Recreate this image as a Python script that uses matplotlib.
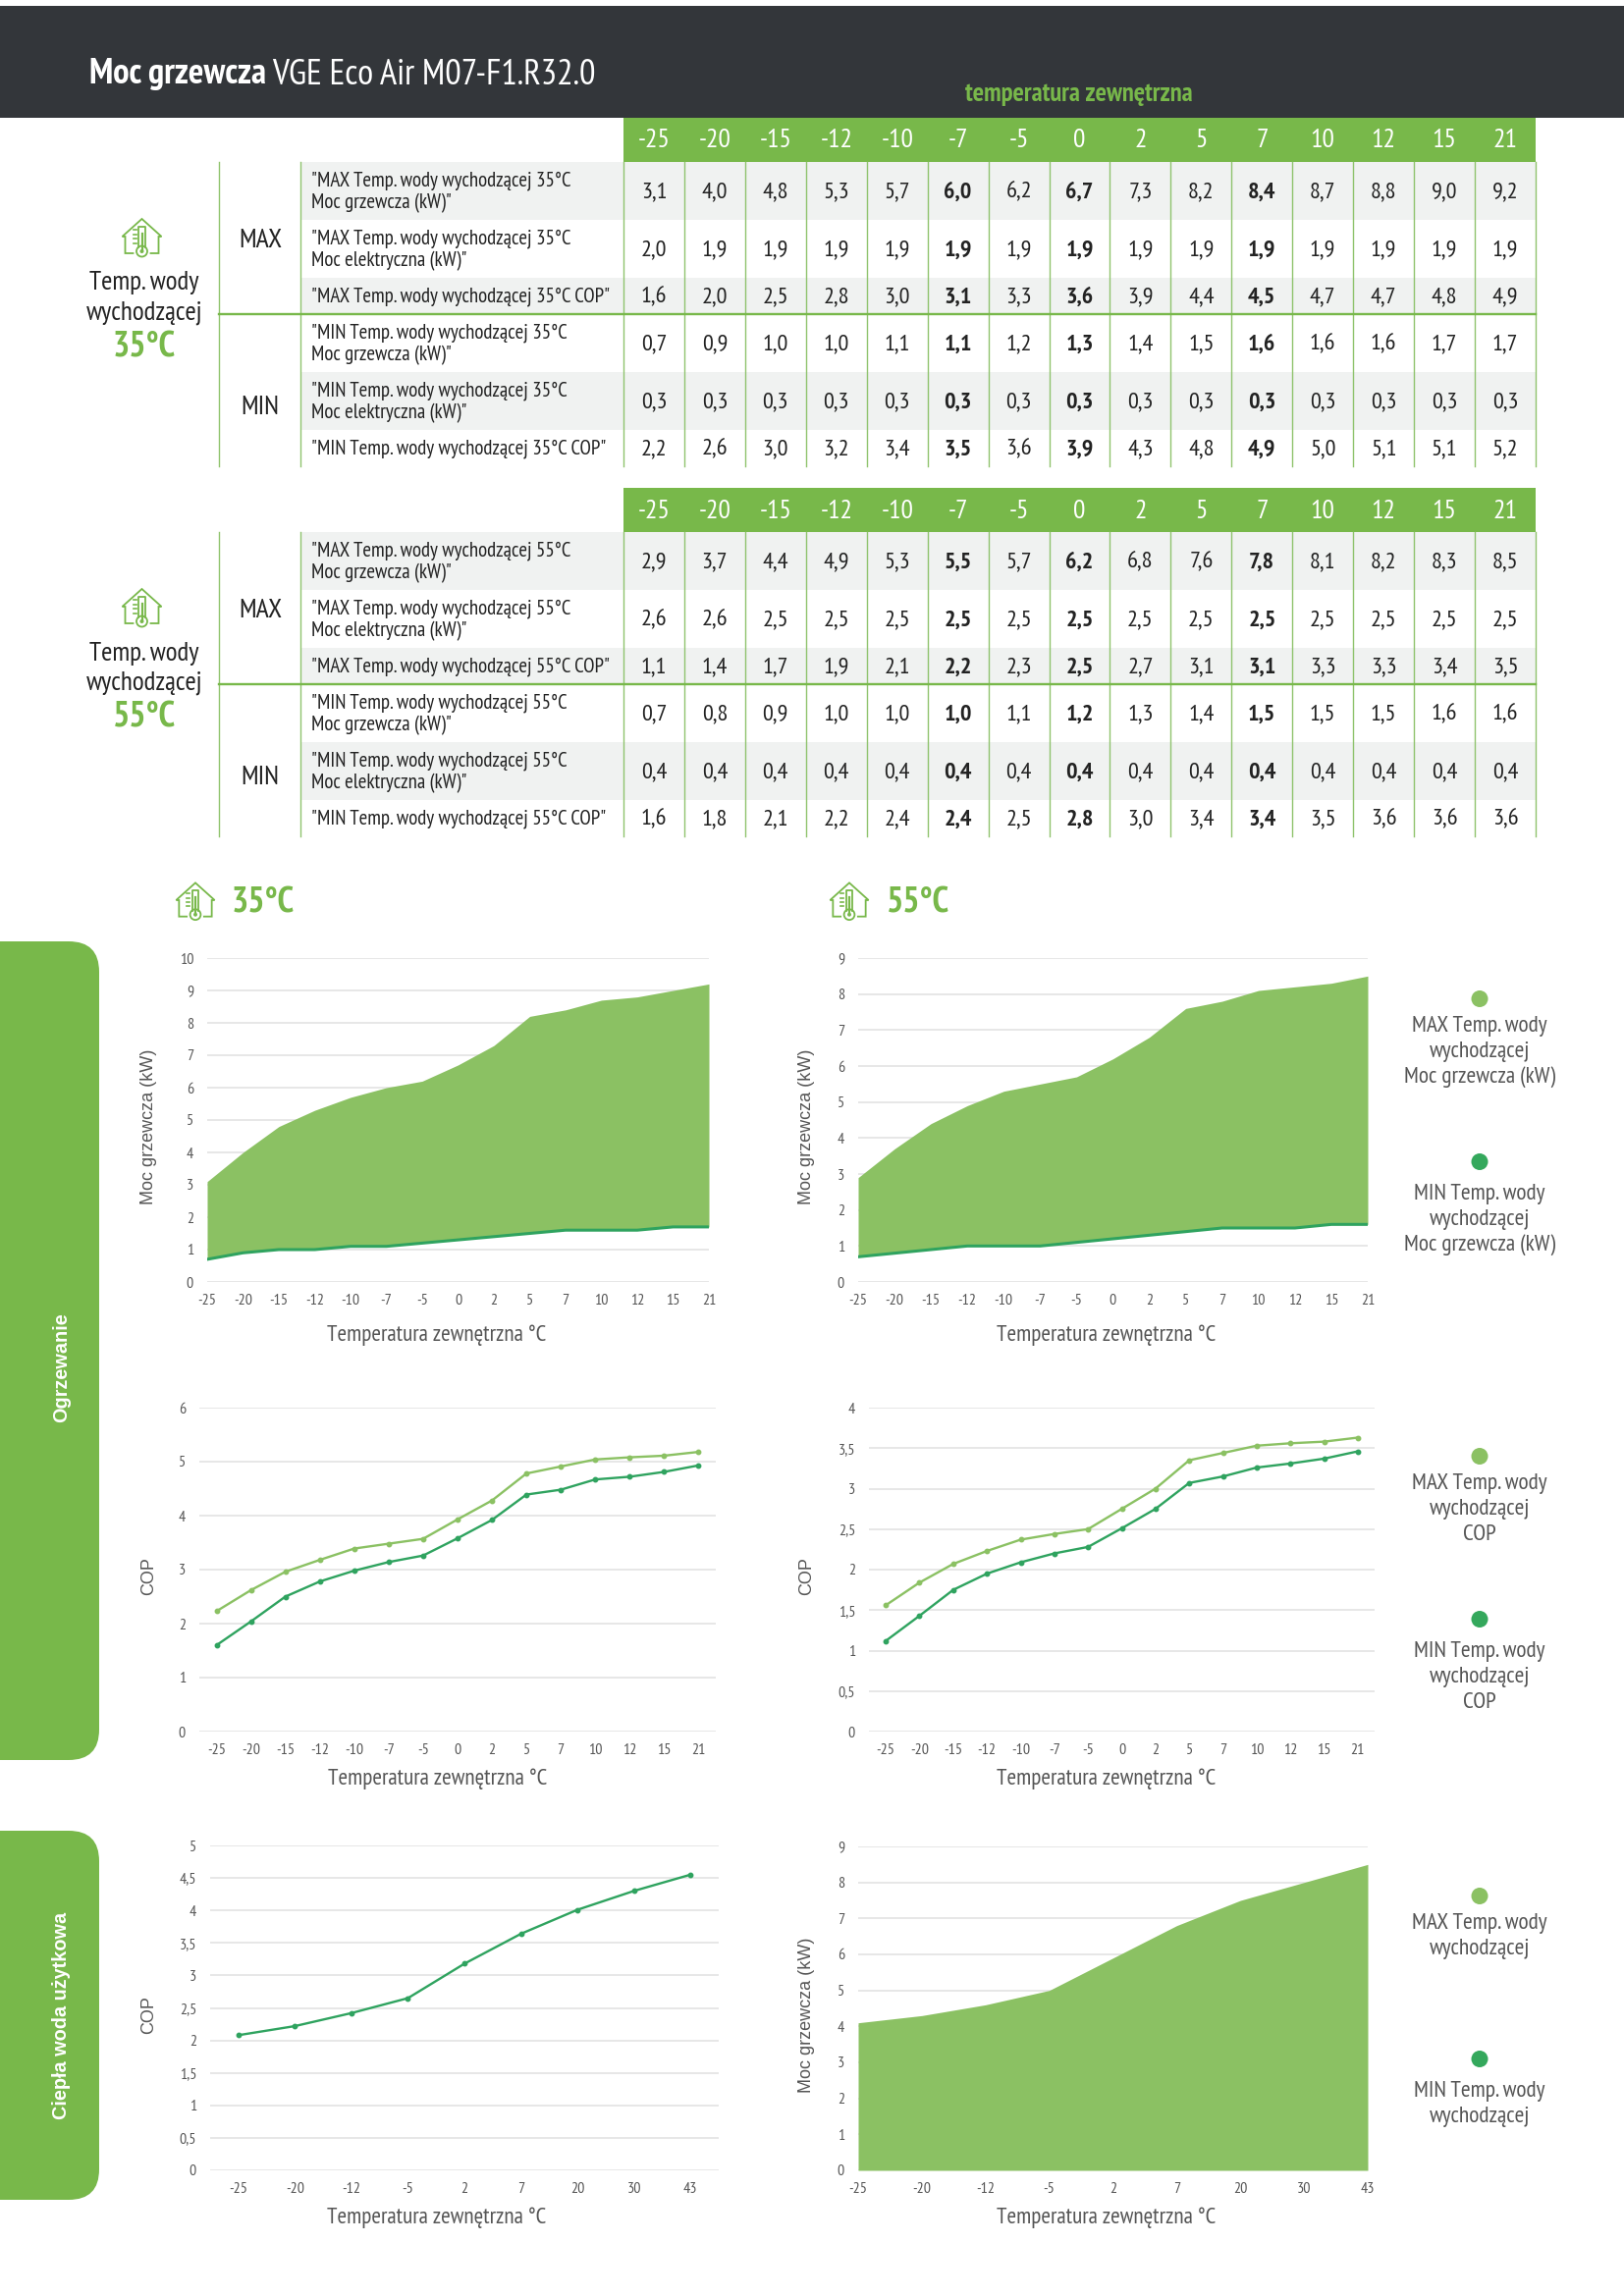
import numpy as np
import matplotlib
matplotlib.use('Agg')
import matplotlib.pyplot as plt
from matplotlib.patches import Rectangle, FancyBboxPatch, Circle

W, H = 1654, 2339
NARROW = ['PT Sans Narrow', 'Roboto Condensed', 'Liberation Sans']
WIDE = ['Liberation Sans', 'DejaVu Sans']

GREEN = '#78B84A'
LINE_GREEN = '#8FC36D'
AREA = '#8BC163'
DARK_GREEN = '#2FA35F'
ROW_GRAY = '#F0F2F1'
HEADER_DARK = '#33363A'
GRID = '#E3E3E3'
TEXT = '#222222'
AXIS_TEXT = '#555555'

temps = ['-25', '-20', '-15', '-12', '-10', '-7', '-5', '0', '2', '5', '7', '10', '12', '15', '21']
dhw_temps = ['-25', '-20', '-12', '-5', '2', '7', '20', '30', '43']
bold_cols = ['-7', '0', '7']

# tabela 35C
max35_heat = [3.1, 4.0, 4.8, 5.3, 5.7, 6.0, 6.2, 6.7, 7.3, 8.2, 8.4, 8.7, 8.8, 9.0, 9.2]
max35_elec = [2.0, 1.9, 1.9, 1.9, 1.9, 1.9, 1.9, 1.9, 1.9, 1.9, 1.9, 1.9, 1.9, 1.9, 1.9]
max35_cop = [1.6, 2.0, 2.5, 2.8, 3.0, 3.1, 3.3, 3.6, 3.9, 4.4, 4.5, 4.7, 4.7, 4.8, 4.9]
min35_heat = [0.7, 0.9, 1.0, 1.0, 1.1, 1.1, 1.2, 1.3, 1.4, 1.5, 1.6, 1.6, 1.6, 1.7, 1.7]
min35_elec = [0.3, 0.3, 0.3, 0.3, 0.3, 0.3, 0.3, 0.3, 0.3, 0.3, 0.3, 0.3, 0.3, 0.3, 0.3]
min35_cop = [2.2, 2.6, 3.0, 3.2, 3.4, 3.5, 3.6, 3.9, 4.3, 4.8, 4.9, 5.0, 5.1, 5.1, 5.2]

# tabela 55C
max55_heat = [2.9, 3.7, 4.4, 4.9, 5.3, 5.5, 5.7, 6.2, 6.8, 7.6, 7.8, 8.1, 8.2, 8.3, 8.5]
max55_elec = [2.6, 2.6, 2.5, 2.5, 2.5, 2.5, 2.5, 2.5, 2.5, 2.5, 2.5, 2.5, 2.5, 2.5, 2.5]
max55_cop = [1.1, 1.4, 1.7, 1.9, 2.1, 2.2, 2.3, 2.5, 2.7, 3.1, 3.1, 3.3, 3.3, 3.4, 3.5]
min55_heat = [0.7, 0.8, 0.9, 1.0, 1.0, 1.0, 1.1, 1.2, 1.3, 1.4, 1.5, 1.5, 1.5, 1.6, 1.6]
min55_elec = [0.4, 0.4, 0.4, 0.4, 0.4, 0.4, 0.4, 0.4, 0.4, 0.4, 0.4, 0.4, 0.4, 0.4, 0.4]
min55_cop = [1.6, 1.8, 2.1, 2.2, 2.4, 2.4, 2.5, 2.8, 3.0, 3.4, 3.4, 3.5, 3.6, 3.6, 3.6]

# wykresy COP
cop35_upper = [2.23, 2.62, 2.96, 3.18, 3.39, 3.48, 3.57, 3.93, 4.28, 4.78, 4.91, 5.04, 5.08, 5.11, 5.18]
cop35_lower = [1.60, 2.04, 2.50, 2.78, 2.98, 3.14, 3.26, 3.58, 3.92, 4.39, 4.48, 4.67, 4.72, 4.81, 4.93]
cop55_upper = [1.56, 1.84, 2.07, 2.23, 2.37, 2.44, 2.50, 2.75, 3.00, 3.35, 3.44, 3.53, 3.56, 3.58, 3.63]
cop55_lower = [1.12, 1.43, 1.75, 1.95, 2.09, 2.20, 2.28, 2.51, 2.75, 3.07, 3.15, 3.26, 3.31, 3.37, 3.46]
dhw_cop = [2.08, 2.22, 2.42, 2.65, 3.18, 3.64, 4.01, 4.30, 4.55]
dhw_heat = [4.1, 4.3, 4.6, 5.0, 5.9, 6.8, 7.5, 8.0, 8.5]

y_1_10 = [0, 1, 2, 3, 4, 5, 6, 7, 8, 9, 10]
y_1_9 = [0, 1, 2, 3, 4, 5, 6, 7, 8, 9]
y_cop6 = [0, 1, 2, 3, 4, 5, 6]
y_half4 = [0, 0.5, 1, 1.5, 2, 2.5, 3, 3.5, 4]
y_half5 = [0, 0.5, 1, 1.5, 2, 2.5, 3, 3.5, 4, 4.5, 5]

xlabel_text = 'Temperatura zewnętrzna °C'
heat_label = 'Moc grzewcza (kW)'


def comma(v):
    return ('%g' % v).replace('.', ',')


def comma_fixed(v):
    return ('%.1f' % v).replace('.', ',')


fig = plt.figure(figsize=(W / 100, H / 100), dpi=100, facecolor='white')
page = fig.add_axes([0, 0, 1, 1], zorder=0)
page.set_xlim(0, W)
page.set_ylim(H, 0)
page.axis('off')


def house_icon(cx, cy, s=1.0):
    # domek z termometrem
    xs = [-9, -17, -17, -20, 0, 20, 17, 17, 9]
    ys = [16, 16, -1, -1, -19, -1, -1, 16, 16]
    page.plot([cx + a * s for a in xs], [cy + b * s for b in ys], color=GREEN, lw=1.3, solid_joinstyle='miter')
    xs = [-3.5, -3.5, 3.5, 3.5]
    page.plot([cx + a * s for a in xs], [cy + 10 * s, cy - 11 * s, cy - 11 * s, cy + 10 * s], color=GREEN, lw=1.3)
    page.add_patch(Circle((cx, cy + 14 * s), 5.5 * s, fc='white', ec=GREEN, lw=1.3))
    page.add_patch(Circle((cx, cy + 14 * s), 2 * s, fc=GREEN, ec='none'))
    page.plot([cx, cx], [cy - 4 * s, cy + 12 * s], color=GREEN, lw=1.6)
    for k in range(4):
        yy = cy - 8 * s + k * 4.5 * s
        page.plot([cx - 9 * s, cx - 6 * s], [yy, yy], color=GREEN, lw=1.2)


def draw_table(y0, degree, unit_label, rows):
    # y0 = gorna krawedz naglowka
    col_left = 635
    col_w = (1564 - col_left) / len(temps)
    top = y0 + 45
    edges = [top, top + 59, top + 118, top + 155, top + 214, top + 273, top + 310]
    page.add_patch(Rectangle((col_left, y0), 1564 - col_left, 45, fc=GREEN, ec='none'))
    for i, t in enumerate(temps):
        page.text(col_left + (i + 0.5) * col_w, y0 + 23.5, t, color='white', ha='center', va='center',
                  family=NARROW, fontsize=20)
    for r in (0, 2, 4):
        page.add_patch(Rectangle((306, edges[r]), 1564 - 306, edges[r + 1] - edges[r], fc=ROW_GRAY, ec='none'))
    # linie
    for x in [223, 306] + [col_left + i * col_w for i in range(len(temps) + 1)]:
        page.plot([x, x], [top, edges[-1]], color=LINE_GREEN, lw=1.0)
    page.plot([223, 1564], [edges[3], edges[3]], color=GREEN, lw=1.7)

    labels = [
        ('"MAX Temp. wody wychodzącej %s\nMoc grzewcza (kW)"' % unit_label),
        ('"MAX Temp. wody wychodzącej %s\nMoc elektryczna (kW)"' % unit_label),
        ('"MAX Temp. wody wychodzącej %s COP"' % unit_label),
        ('"MIN Temp. wody wychodzącej %s\nMoc grzewcza (kW)"' % unit_label),
        ('"MIN Temp. wody wychodzącej %s\nMoc elektryczna (kW)"' % unit_label),
        ('"MIN Temp. wody wychodzącej %s COP"' % unit_label),
    ]
    for r, lab in enumerate(labels):
        yc = (edges[r] + edges[r + 1]) / 2
        page.text(317, yc + 1, lab, ha='left', va='center', color=TEXT, family=NARROW, fontsize=15, linespacing=1.22)
        for i, t in enumerate(temps):
            page.text(col_left + (i + 0.5) * col_w, yc + 1.5, comma_fixed(rows[r][i]), ha='center', va='center', color=TEXT,
                      family=NARROW, fontsize=17.5, weight='bold' if t in bold_cols else 'normal')

    page.text(265, y0 + 125, 'MAX', ha='center', va='center', color=TEXT, family=NARROW, fontsize=20)
    page.text(265, y0 + 295, 'MIN', ha='center', va='center', color=TEXT, family=NARROW, fontsize=20)
    house_icon(144.5, y0 + 122)
    page.text(147, y0 + 168.5, 'Temp. wody', ha='center', va='center', color=TEXT, family=NARROW, fontsize=19.5)
    page.text(147, y0 + 198.5, 'wychodzącej', ha='center', va='center', color=TEXT, family=NARROW, fontsize=19.5)
    page.text(147, y0 + 234, degree, ha='center', va='center', color=GREEN, family=NARROW, fontsize=26, weight='bold')


def make_axes(left, right, top, bottom):
    ax = fig.add_axes([left / W, 1 - bottom / H, (right - left) / W, (bottom - top) / H], zorder=2)
    ax.set_facecolor('none')
    for s in ax.spines.values():
        s.set_visible(False)
    ax.grid(axis='y', color=GRID, lw=1.2)
    ax.set_axisbelow(True)
    ax.tick_params(length=0)
    return ax


def finish_axes(ax, cats, yticks, ylabel, box, xlabel_y, ylabel_x, ylabel_y, xlabel_x, between):
    left, right, top, bottom = box
    n = len(cats)
    ax.set_xticks(range(n))
    ax.set_xticklabels(cats, family=NARROW, fontsize=11.5, color=AXIS_TEXT)
    ax.set_yticks(yticks)
    ax.set_yticklabels([comma(v) for v in yticks], family=NARROW, fontsize=11.5, color=AXIS_TEXT)
    ax.tick_params(axis='x', pad=8.5)
    ax.tick_params(axis='y', pad=10)
    ax.set_ylim(yticks[0], yticks[-1])
    if between:
        ax.set_xlim(-0.5, n - 0.5)
    else:
        ax.set_xlim(0, n - 1)
    ax.set_xlabel(xlabel_text, family=NARROW, fontsize=16.7, color=AXIS_TEXT, va='center')
    ax.set_ylabel(ylabel, family=WIDE, fontsize=13, color=AXIS_TEXT, va='center')
    ax.xaxis.set_label_coords((xlabel_x - left) / (right - left), (bottom - xlabel_y - 1.5) / (bottom - top))
    ax.yaxis.set_label_coords((ylabel_x - left) / (right - left), (bottom - ylabel_y) / (bottom - top))


def legend_block(y, dot_color, lines, gap):
    page.add_patch(Circle((1507, y + 0.5), 8.5, fc=dot_color, ec='none'))
    for k, line in enumerate(lines):
        page.text(1507, y + gap + 1.5 + k * 26, line, ha='center', va='center', color=AXIS_TEXT, family=NARROW, fontsize=16.8)


# naglowek
page.add_patch(Rectangle((0, 6), W, 114, fc=HEADER_DARK, ec='none'))
t1 = page.text(91, 76, 'Moc grzewcza', color='white', family=NARROW, fontsize=26.4, weight='bold', ha='left', va='center')
fig.canvas.draw()
title_end = t1.get_window_extent().x1
page.text(title_end + 6, 76, 'VGE Eco Air M07-F1.R32.0', color='white', family=NARROW, fontsize=26.4, ha='left', va='center')
page.text(1099, 96.5, 'temperatura zewnętrzna', color=GREEN, family=NARROW, fontsize=19.2, weight='bold', ha='center', va='center')

draw_table(120, '35°C', '35°C', [max35_heat, max35_elec, max35_cop, min35_heat, min35_elec, min35_cop])
draw_table(497, '55°C', '55°C', [max55_heat, max55_elec, max55_cop, min55_heat, min55_elec, min55_cop])

# boczne paski
for y1, y2, label, yc in [(959, 1793, 'Ogrzewanie', 1393), (1865, 2241, 'Ciepła woda użytkowa', 2053)]:
    page.add_patch(FancyBboxPatch((-60, y1 + 31), 161 - 31 + 0, y2 - y1 - 62, boxstyle='round,pad=31,rounding_size=31',
                                  fc=GREEN, ec='none'))
    page.text(62.5, yc, label, rotation=90, color='white', family=WIDE, weight='bold', fontsize=14.3, ha='center', va='center')

# naglowki wykresow
house_icon(199, 918, 0.98)
page.text(236, 920, '35°C', color=GREEN, family=NARROW, weight='bold', fontsize=26, ha='left', va='center')
house_icon(865, 918, 0.98)
page.text(903, 920, '55°C', color=GREEN, family=NARROW, weight='bold', fontsize=26, ha='left', va='center')

# wykres 1
box = (211, 722, 976, 1306)
ax = make_axes(*box)
x = np.arange(len(temps))
ax.fill_between(x, min35_heat, max35_heat, color=AREA, lw=0)
ax.plot(x, min35_heat, color=DARK_GREEN, lw=2.2)
finish_axes(ax, temps, y_1_10, heat_label, box, 1359, 152, 1148, 445, False)

# wykres 2
box = (874, 1393, 976, 1306)
ax = make_axes(*box)
ax.fill_between(x, min55_heat, max55_heat, color=AREA, lw=0)
ax.plot(x, min55_heat, color=DARK_GREEN, lw=2.2)
finish_axes(ax, temps, y_1_9, heat_label, box, 1359, 822, 1148, 1127, False)

# wykres 3
box = (203, 729, 1434, 1764)
ax = make_axes(*box)
ax.plot(x, cop35_upper, color=AREA, lw=1.7, marker='o', ms=3.2)
ax.plot(x, cop35_lower, color=DARK_GREEN, lw=1.7, marker='o', ms=3.2)
finish_axes(ax, temps, y_cop6, 'COP', box, 1811, 152, 1606, 446, True)

# wykres 4
box = (885, 1400, 1434, 1764)
ax = make_axes(*box)
ax.plot(x, cop55_upper, color=AREA, lw=1.7, marker='o', ms=3.2)
ax.plot(x, cop55_lower, color=DARK_GREEN, lw=1.7, marker='o', ms=3.2)
finish_axes(ax, temps, y_half4, 'COP', box, 1811, 822, 1606, 1127, True)

# wykres 5
box = (214, 732, 1880, 2211)
ax = make_axes(*box)
x2 = np.arange(len(dhw_temps))
ax.plot(x2, dhw_cop, color=DARK_GREEN, lw=1.7, marker='o', ms=3.2)
finish_axes(ax, dhw_temps, y_half5, 'COP', box, 2258, 152, 2053, 445, True)

# wykres 6
box = (874, 1393, 1881, 2211)
ax = make_axes(*box)
ax.fill_between(x2, 0, dhw_heat, color=AREA, lw=0)
finish_axes(ax, dhw_temps, y_1_9, heat_label, box, 2258, 822, 2053, 1127, False)

# legendy
legend_block(1017, AREA, ['MAX Temp. wody', 'wychodzącej', 'Moc grzewcza (kW)'], 27)
legend_block(1183, '#34A85C', ['MIN Temp. wody', 'wychodzącej', 'Moc grzewcza (kW)'], 32)
legend_block(1483, AREA, ['MAX Temp. wody', 'wychodzącej', 'COP'], 27)
legend_block(1649, '#34A85C', ['MIN Temp. wody', 'wychodzącej', 'COP'], 32)
legend_block(1931, AREA, ['MAX Temp. wody', 'wychodzącej'], 27)
legend_block(2097, '#34A85C', ['MIN Temp. wody', 'wychodzącej'], 32)

fig.savefig('out.png', dpi=100)
